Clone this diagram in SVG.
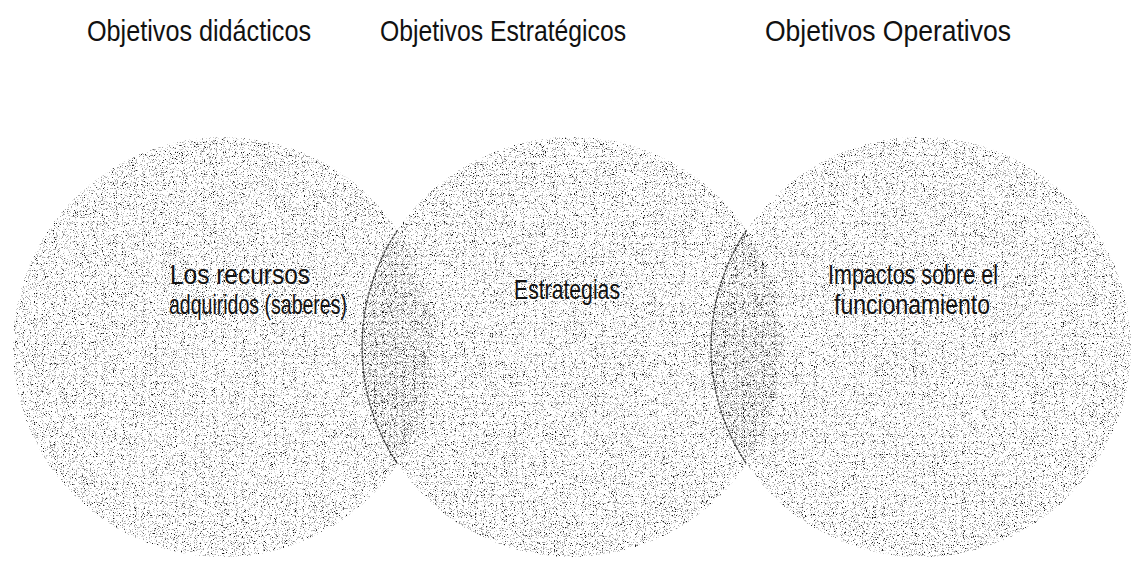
<svg xmlns="http://www.w3.org/2000/svg" width="1132" height="565" viewBox="0 0 1132 565">
  <defs>
    <style>
      .title { font-family: "Liberation Sans", Arial, sans-serif; font-size: 30px; fill: #111; }
      .label { font-family: "Liberation Sans", Arial, sans-serif; font-size: 28px; fill: #111; text-anchor: middle; }
      .bubble { fill: #000; }
      .edge { fill: none; stroke: #333; stroke-width: 1.2; stroke-dasharray: 3 1; }
    </style>
    <filter id="st1" filterUnits="userSpaceOnUse" x="0" y="0" width="1132" height="565" color-interpolation-filters="sRGB">
      <feTurbulence type="fractalNoise" baseFrequency="0.85" numOctaves="2" seed="3" result="n1"/>
      <feColorMatrix in="n1" type="matrix" values="0 0 0 0 0.64  0 0 0 0 0.64  0 0 0 0 0.64  10 0 0 0 -5.9" result="g"/>
      <feTurbulence type="fractalNoise" baseFrequency="0.9" numOctaves="2" seed="11" result="n2"/>
      <feColorMatrix in="n2" type="matrix" values="0 0 0 0 0.1  0 0 0 0 0.1  0 0 0 0 0.1  0 12 0 0 -8.05" result="k"/>
      <feMerge result="m"><feMergeNode in="g"/><feMergeNode in="k"/></feMerge>
      <feComposite in="m" in2="SourceAlpha" operator="in"/>
    </filter>
    <filter id="st2" filterUnits="userSpaceOnUse" x="0" y="0" width="1132" height="565" color-interpolation-filters="sRGB">
      <feTurbulence type="fractalNoise" baseFrequency="0.85" numOctaves="2" seed="27" result="n1"/>
      <feColorMatrix in="n1" type="matrix" values="0 0 0 0 0.64  0 0 0 0 0.64  0 0 0 0 0.64  10 0 0 0 -5.9" result="g"/>
      <feTurbulence type="fractalNoise" baseFrequency="0.9" numOctaves="2" seed="41" result="n2"/>
      <feColorMatrix in="n2" type="matrix" values="0 0 0 0 0.1  0 0 0 0 0.1  0 0 0 0 0.1  0 12 0 0 -8.05" result="k"/>
      <feMerge result="m"><feMergeNode in="g"/><feMergeNode in="k"/></feMerge>
      <feComposite in="m" in2="SourceAlpha" operator="in"/>
    </filter>
    <filter id="st3" filterUnits="userSpaceOnUse" x="0" y="0" width="1132" height="565" color-interpolation-filters="sRGB">
      <feTurbulence type="fractalNoise" baseFrequency="0.85" numOctaves="2" seed="57" result="n1"/>
      <feColorMatrix in="n1" type="matrix" values="0 0 0 0 0.64  0 0 0 0 0.64  0 0 0 0 0.64  10 0 0 0 -5.9" result="g"/>
      <feTurbulence type="fractalNoise" baseFrequency="0.9" numOctaves="2" seed="73" result="n2"/>
      <feColorMatrix in="n2" type="matrix" values="0 0 0 0 0.1  0 0 0 0 0.1  0 0 0 0 0.1  0 12 0 0 -8.05" result="k"/>
      <feMerge result="m"><feMergeNode in="g"/><feMergeNode in="k"/></feMerge>
      <feComposite in="m" in2="SourceAlpha" operator="in"/>
    </filter>
  </defs>
  <rect width="1132" height="565" fill="#fff"/>

  <g id="titles">
    <text class="title" x="87" y="41" textLength="224" lengthAdjust="spacingAndGlyphs">Objetivos didácticos</text>
    <text class="title" x="380" y="41" textLength="246" lengthAdjust="spacingAndGlyphs">Objetivos Estratégicos</text>
    <text class="title" x="765" y="41" textLength="246" lengthAdjust="spacingAndGlyphs">Objetivos Operativos</text>
  </g>

  <g id="circle-didacticos">
    <circle class="bubble" cx="223" cy="347" r="210" filter="url(#st1)"/>
  </g>
  <g id="circle-estrategicos">
    <circle class="bubble" cx="572" cy="347" r="210" filter="url(#st2)"/>
  </g>
  <g id="circle-operativos">
    <circle class="bubble" cx="921" cy="347" r="210" filter="url(#st3)"/>
  </g>

  <g id="connectors">
    <path class="edge" d="M397.5,230.2 A210,210 0 0,0 397.5,463.8"/>
    <path class="edge" d="M746.5,230.2 A210,210 0 0,0 746.5,463.8"/>
  </g>

  <g id="label-recursos">
    <text class="label" x="240" y="284" textLength="140" lengthAdjust="spacingAndGlyphs">Los recursos</text>
    <text class="label" x="258" y="314" textLength="178" lengthAdjust="spacingAndGlyphs">adquiridos (saberes)</text>
  </g>
  <g id="label-estrategias">
    <text class="label" x="567" y="299" textLength="106" lengthAdjust="spacingAndGlyphs">Estrategias</text>
  </g>
  <g id="label-impactos">
    <text class="label" x="913" y="284" textLength="170" lengthAdjust="spacingAndGlyphs">Impactos sobre el</text>
    <text class="label" x="912" y="314" textLength="156" lengthAdjust="spacingAndGlyphs">funcionamiento</text>
  </g>
</svg>
